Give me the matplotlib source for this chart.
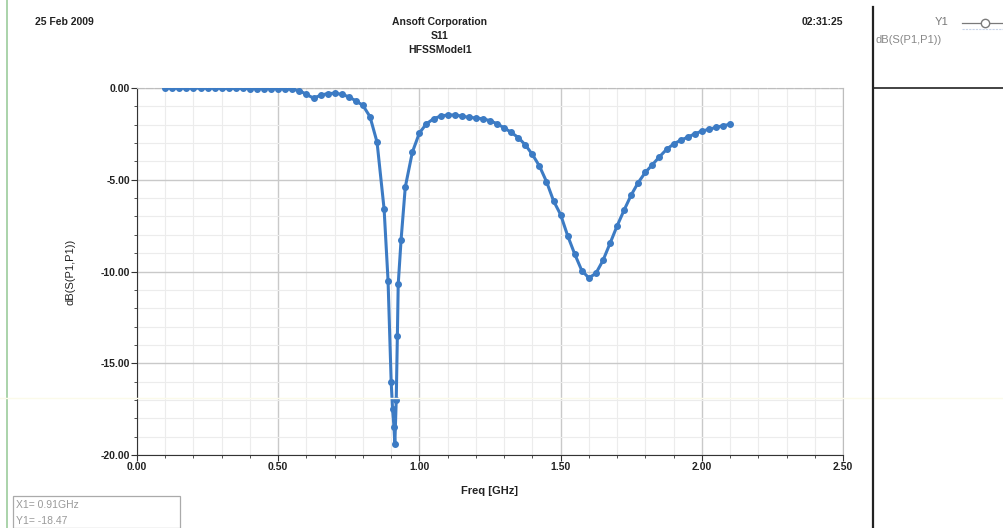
import matplotlib.pyplot as plt
from matplotlib.ticker import MultipleLocator, FormatStrFormatter
from matplotlib.lines import Line2D
from matplotlib.patches import Rectangle

# S11 sweep (GHz, dB)
freq_ghz = [
    0.100, 0.125, 0.150, 0.175, 0.200, 0.225, 0.250, 0.275, 0.300, 0.325,
    0.350, 0.375, 0.400, 0.425, 0.450, 0.475, 0.500, 0.525, 0.550, 0.575,
    0.600, 0.625, 0.650, 0.675, 0.700, 0.725, 0.750, 0.775, 0.800, 0.825,
    0.850, 0.875, 0.889, 0.900, 0.905, 0.910, 0.913, 0.918, 0.922, 0.925,
    0.935, 0.950, 0.975, 1.000, 1.025, 1.050, 1.075, 1.100, 1.125, 1.150,
    1.175, 1.200, 1.225, 1.250, 1.275, 1.300, 1.325, 1.350, 1.375, 1.400,
    1.425, 1.450, 1.475, 1.500, 1.525, 1.550, 1.575, 1.600, 1.625, 1.650,
    1.675, 1.700, 1.725, 1.750, 1.775, 1.800, 1.825, 1.850, 1.875, 1.900,
    1.925, 1.950, 1.975, 2.000, 2.025, 2.050, 2.075, 2.100,
]
s11_db = [
    -0.01, -0.01, -0.01, -0.01, -0.01, -0.01, -0.01, -0.01, -0.02, -0.02,
    -0.02, -0.02, -0.03, -0.03, -0.03, -0.03, -0.04, -0.05, -0.07, -0.14,
    -0.35, -0.55, -0.40, -0.30, -0.29, -0.34, -0.48, -0.70, -0.95, -1.56,
    -2.95, -6.60, -10.50, -16.00, -17.50, -18.47, -19.40, -17.00, -13.50, -10.70,
    -8.30, -5.40, -3.50, -2.45, -1.95, -1.68, -1.53, -1.47, -1.47, -1.53,
    -1.60, -1.63, -1.68, -1.78, -1.95, -2.17, -2.42, -2.70, -3.10, -3.62,
    -4.25, -5.10, -6.15, -6.90, -8.05, -9.05, -9.95, -10.35, -10.10, -9.40,
    -8.47, -7.52, -6.65, -5.83, -5.15, -4.60, -4.18, -3.75, -3.35, -3.05,
    -2.85, -2.68, -2.50, -2.35, -2.25, -2.15, -2.05, -1.98,
]

x_ticks = [0.00, 0.50, 1.00, 1.50, 2.00, 2.50]
y_ticks = [0.00, -5.00, -10.00, -15.00, -20.00]

marker_x = 0.91
marker_y = -18.47

W, H = 1004, 528
plt.rcParams['font.family'] = ['Liberation Sans', 'DejaVu Sans']

fig = plt.figure(figsize=(W / 100, H / 100), dpi=100)
fig.patch.set_facecolor('white')

ax = fig.add_axes([137 / W, 1 - 455 / H, (843 - 137) / W, (455 - 88) / H])

line_color = '#3c7bc4'
ax.plot(freq_ghz, s11_db, color=line_color, lw=2.2, marker='o', ms=4.0,
        mfc=line_color, mec=line_color, zorder=3)

ax.set_xlim(0, 2.5)
ax.set_ylim(-20, 0)
ax.set_xticks(x_ticks)
ax.set_yticks(y_ticks)
ax.xaxis.set_minor_locator(MultipleLocator(0.1))
ax.yaxis.set_minor_locator(MultipleLocator(1))
ax.xaxis.set_major_formatter(FormatStrFormatter('%.2f'))
ax.yaxis.set_major_formatter(FormatStrFormatter('%.2f'))

ax.grid(which='major', color='#c9c9c9', lw=1.0)
ax.grid(which='minor', color='#ececec', lw=0.8)
ax.set_axisbelow(True)

ax.tick_params(which='both', direction='out', labelsize=7.5, pad=1,
               colors='#333333', labelcolor='#222222')
ax.tick_params(which='major', length=4, width=0.8)
ax.tick_params(which='minor', length=2, width=0.6)
for lbl in ax.get_xticklabels() + ax.get_yticklabels():
    lbl.set_fontweight('bold')

ax.spines['left'].set_color('#333333')
ax.spines['bottom'].set_color('#333333')
ax.spines['top'].set_color('#bdbdbd')
ax.spines['top'].set_linestyle((0, (6, 2)))
ax.spines['right'].set_color('#bdbdbd')

ax.set_xlabel('Freq [GHz]', fontsize=8, fontweight='bold', labelpad=10,
              color='#222222')
ax.set_ylabel('dB(S(P1,P1))', fontsize=8, labelpad=18, color='#222222')

# Header texts
hdr = dict(fontsize=7.5, fontweight='bold', color='#222222', va='center')
fig.text(35 / W, 1 - 22 / H, '25 Feb 2009', ha='left', **hdr)
fig.text(440 / W, 1 - 22 / H, 'Ansoft Corporation', ha='center', **hdr)
fig.text(440 / W, 1 - 36 / H, 'S11', ha='center', **hdr)
fig.text(440 / W, 1 - 50 / H, 'HFSSModel1', ha='center', **hdr)
fig.text(843 / W, 1 - 22 / H, '02:31:25', ha='right', **hdr)

# Frame decorations and legend panel
fig.add_artist(Line2D([7 / W, 7 / W], [0, 1], color='#9ccc9c', lw=1.2))
fig.add_artist(Line2D([0, 1], [1 - 398 / H, 1 - 398 / H],
                      color='#fbfaea', lw=1.0))
fig.add_artist(Line2D([873 / W, 873 / W], [0, 1 - 7 / H],
                      color='#222222', lw=1.6))
fig.add_artist(Line2D([873 / W, 1], [1 - 88 / H, 1 - 88 / H],
                      color='#222222', lw=1.2))
fig.add_artist(Line2D([962 / W, 1.0], [1 - 23 / H, 1 - 23 / H],
                      color='#7a7a7a', lw=0.9))
fig.add_artist(Line2D([985 / W], [1 - 23 / H], color='#7a7a7a',
                      marker='o', ms=6, mfc='white', mec='#7a7a7a'))
fig.add_artist(Line2D([962 / W, 1.0], [1 - 29 / H, 1 - 29 / H],
                      color='#c8d4e8', lw=0.8, ls=(0, (2, 1))))
fig.text(948 / W, 1 - 22 / H, 'Y1', ha='right', va='center', fontsize=8,
         color='#777777')
fig.text(876 / W, 1 - 40 / H, 'dB(S(P1,P1))', ha='left', va='center',
         fontsize=8, color='#888888')

# Marker readout box
fig.add_artist(Rectangle((13 / W, 0), (180 - 13) / W, (528 - 496) / H,
                         transform=fig.transFigure, fill=False,
                         ec='#aaaaaa', lw=0.9))
fig.text(16 / W, 1 - 505 / H, f'X1= {marker_x:.2f}GHz', ha='left',
         va='center', fontsize=7.5, color='#999999')
fig.text(16 / W, 1 - 521 / H, f'Y1= {marker_y:.2f}', ha='left',
         va='center', fontsize=7.5, color='#999999')

fig.savefig('out.png', dpi=100, facecolor='white')
